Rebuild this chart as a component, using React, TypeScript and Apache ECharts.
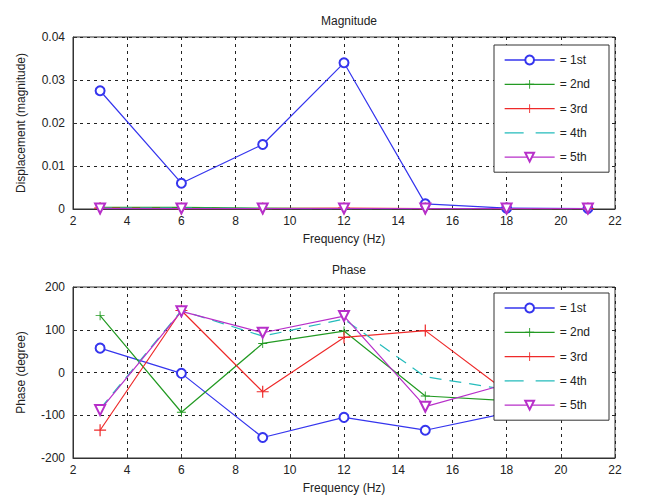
import React, { useEffect, useRef } from "react";
import * as echarts from "echarts";

const freqs = [3, 6, 9, 12, 15, 18, 21];
const seriesNames = ["= 1st", "= 2nd", "= 3rd", "= 4th", "= 5th"];

const mag1st = [0.0275, 0.006, 0.015, 0.034, 0.0012, 0.0002, 0.0001];
const mag2nd = [0.0004, 0.0004, 0.0002, 0.0001, 0.0001, 0.0001, 0.0001];
const mag3rd = [0.0002, 0.0001, 0.0001, 0.0002, 0.0001, 0.0001, 0.0001];
const mag4th = [0.0002, 0.0002, 0.0001, 0.0001, 0.0001, 0.0001, 0.0001];
const mag5th = [0.0001, 0.0001, 0.0001, 0.0001, 0.0001, 0.0001, 0.0001];

const ph1st = [57, -2, -152, -105, -135, -95, -90];
const ph2nd = [133, -93, 68, 97, -55, -66, -70];
const ph3rd = [-135, 145, -45, 82, 98, -45, -50];
const ph4th = [-85, 145, 85, 125, -10, -40, -45];
const ph5th = [-88, 143, 93, 132, -80, -27, -30];

const colors = ["#3535ee", "#239a23", "#ee2a2a", "#25bcbc", "#b72fc9"];
const plusPath =
  "path://M-0.1,-1h0.2v0.9h0.9v0.2h-0.9v0.9h-0.2v-0.9h-0.9v-0.2h0.9z";
const symbols = ["emptyCircle", plusPath, plusPath, "none", "emptyTriangle"];
const symbolSizes = [9, 9, 12, 0, 10];
const symbolRotates = [0, 0, 0, 0, 180];

const FONT = "Liberation Sans";

export default function App() {
  const ref = useRef<HTMLDivElement>(null);
  useEffect(() => {
    if (!ref.current) return;
    const chart = echarts.init(ref.current, undefined, { renderer: "svg" });
    const magData = [mag1st, mag2nd, mag3rd, mag4th, mag5th];
    const phData = [ph1st, ph2nd, ph3rd, ph4th, ph5th];

    const mkSeries = (arr: number[][], idx: number) =>
      arr.map((vals, i) => ({
        type: "line",
        name: seriesNames[i],
        xAxisIndex: idx,
        yAxisIndex: idx,
        data: freqs.map((f, k) => [f, vals[k]]),
        symbol: symbols[i],
        symbolSize: symbolSizes[i],
        symbolRotate: symbolRotates[i],
        showSymbol: symbols[i] !== "none",
        lineStyle: {
          color: colors[i],
          width: 1.2,
          type: i === 3 ? [12, 8] : "solid",
        },
        itemStyle: { color: colors[i], borderWidth: 1.2 },
        z: 2 + i,
      }));

    const xAxisCommon = (gridIndex: number) => ({
      type: "value",
      gridIndex,
      min: 2,
      max: 22,
      interval: 2,
      name: "Frequency (Hz)",
      nameLocation: "middle",
      nameGap: 24,
      nameTextStyle: { fontFamily: FONT, fontSize: 12, color: "#222" },
      axisLine: { show: true, onZero: false, lineStyle: { color: "#333" } },
      axisTick: { show: true, inside: true, length: 4, lineStyle: { color: "#333" } },
      axisLabel: { fontFamily: FONT, fontSize: 12, color: "#222", margin: 6 },
      splitLine: { show: true, lineStyle: { color: "#222", type: [3, 4], width: 1 } },
    });

    const legendCommon = (top: number) => ({
      orient: "vertical",
      left: 494,
      top,
      data: seriesNames.map((n, i) =>
        i === 3
          ? { name: n, itemStyle: { opacity: 0 }, lineStyle: { type: [19, 12], width: 1.3 } }
          : { name: n }
      ),
      lineStyle: { width: 1.3 },
      backgroundColor: "#fff",
      borderColor: "#333",
      borderWidth: 1,
      borderRadius: 0,
      padding: [9, 19, 9, 10],
      itemWidth: 50,
      itemHeight: 11,
      itemGap: 12.3,
      textStyle: { fontFamily: FONT, fontSize: 12, color: "#222" },
      selectedMode: false,
      z: 10,
    });

    chart.setOption({
      animation: false,
      backgroundColor: "#fff",
      title: [
        {
          text: "Magnitude",
          left: 344,
          top: 10,
          textAlign: "center",
          textStyle: { fontFamily: FONT, fontSize: 12, fontWeight: "normal", color: "#222" },
        },
        {
          text: "Phase",
          left: 344,
          top: 259,
          textAlign: "center",
          textStyle: { fontFamily: FONT, fontSize: 12, fontWeight: "normal", color: "#222" },
        },
      ],
      grid: [
        { left: 73, right: 30, top: 37, height: 172, show: true, borderColor: "#333", borderWidth: 1, backgroundColor: "transparent" },
        { left: 73, right: 30, top: 287, height: 171, show: true, borderColor: "#333", borderWidth: 1, backgroundColor: "transparent" },
      ],
      legend: [legendCommon(45), legendCommon(293)],
      xAxis: [xAxisCommon(0), xAxisCommon(1)],
      yAxis: [
        {
          type: "value",
          gridIndex: 0,
          min: 0,
          max: 0.04,
          interval: 0.01,
          name: "Displacement (magnitude)",
          nameLocation: "middle",
          nameGap: 46,
          nameTextStyle: { fontFamily: FONT, fontSize: 12, color: "#222" },
          axisLine: { show: true, lineStyle: { color: "#333" } },
          axisTick: { show: true, inside: true, length: 4, lineStyle: { color: "#333" } },
          axisLabel: { fontFamily: FONT, fontSize: 12, color: "#222", margin: 8 },
          splitLine: { show: true, lineStyle: { color: "#222", type: [3, 4], width: 1 } },
        },
        {
          type: "value",
          gridIndex: 1,
          min: -200,
          max: 200,
          interval: 100,
          name: "Phase (degree)",
          nameLocation: "middle",
          nameGap: 46,
          nameTextStyle: { fontFamily: FONT, fontSize: 12, color: "#222" },
          axisLine: { show: true, lineStyle: { color: "#333" } },
          axisTick: { show: true, inside: true, length: 4, lineStyle: { color: "#333" } },
          axisLabel: { fontFamily: FONT, fontSize: 12, color: "#222", margin: 8 },
          splitLine: { show: true, lineStyle: { color: "#222", type: [3, 4], width: 1 } },
        },
      ],
      series: [...mkSeries(magData, 0), ...mkSeries(phData, 1)],
    });
    return () => chart.dispose();
  }, []);
  return <div ref={ref} style={{ width: 645, height: 503, position: "absolute", left: 0, top: 0 }} />;
}
